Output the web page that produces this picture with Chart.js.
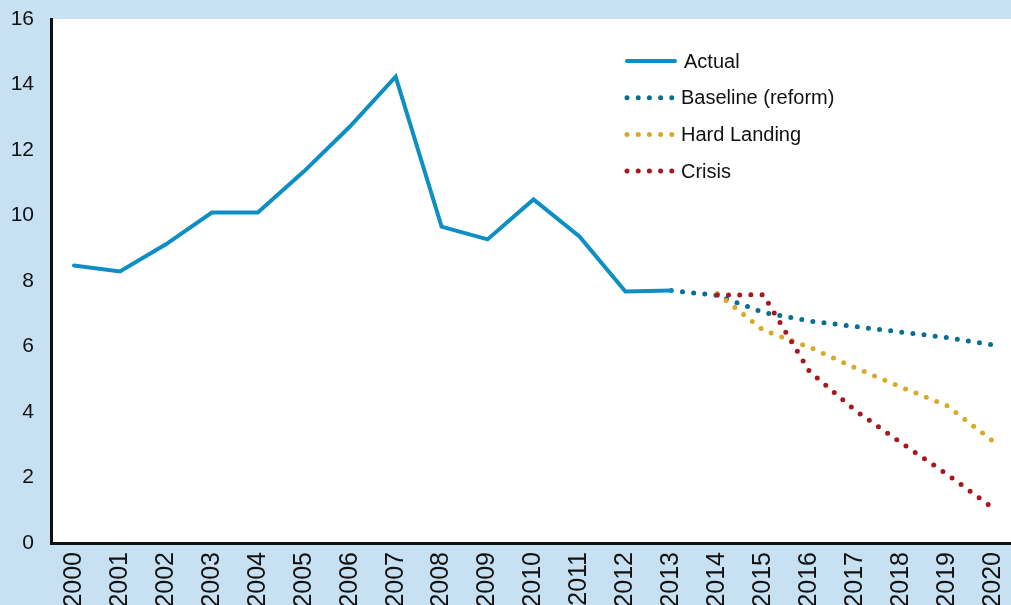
<!DOCTYPE html>
<html>
<head>
<meta charset="utf-8">
<script src="https://cdn.jsdelivr.net/npm/chart.js@4.4.0/dist/chart.umd.min.js"></script>
<style>
  html, body { margin: 0; padding: 0; background: #c7e0f2; overflow: hidden; }
  #wrap { position: relative; width: 1016px; height: 605px; }
</style>
</head>
<body>
<div id="wrap"><canvas id="chart"></canvas></div>
<script>
// 年份与各情景数据
const years = ['2000','2001','2002','2003','2004','2005','2006','2007','2008','2009','2010',
  '2011','2012','2013','2014','2015','2016','2017','2018','2019','2020'];
const actual = [8.47, 8.29, 9.12, 10.09, 10.09, 11.34, 12.71, 14.24, 9.66, 9.27, 10.49,
  9.36, 7.68, 7.71, null, null, null, null, null, null, null];
const baseline = [null, null, null, null, null, null, null, null, null, null, null,
  null, null, 7.71, 7.56, 7.04, 6.78, 6.61, 6.44, 6.27, 6.05];
const hardLanding = [null, null, null, null, null, null, null, null, null, null, null,
  null, null, null, 7.62, 6.5, 5.98, 5.35, 4.76, 4.19, 3.11];
const crisis = [null, null, null, null, null, null, null, null, null, null, null,
  null, null, null, 7.57, 7.58, 5.25, 4.05, 3.06, 2.1, 1.07];
const yTicks = [0, 2, 4, 6, 8, 10, 12, 14, 16];

const FONT = '"Liberation Sans", Arial, sans-serif';

// 图内图例
const insideLegend = {
  id: 'insideLegend',
  afterDraw(chart) {
    const ctx = chart.ctx;
    const x0 = 627, x1 = 675, y0 = 61, step = 36.7;
    ctx.save();
    chart.data.datasets.forEach((ds, i) => {
      const y = y0 + i * step;
      ctx.beginPath();
      ctx.strokeStyle = ds.borderColor;
      ctx.lineWidth = ds.borderWidth;
      ctx.lineCap = 'round';
      ctx.setLineDash(ds.borderDash || []);
      ctx.moveTo(x0, y);
      ctx.lineTo(x1, y);
      ctx.stroke();
      ctx.setLineDash([]);
      ctx.fillStyle = '#111';
      ctx.font = '20px ' + FONT;
      ctx.textBaseline = 'middle';
      ctx.fillText(ds.label, i === 0 ? 684 : 681, y + 1);
    });
    ctx.restore();
  }
};

// 白色绘图区背景
const plotBg = {
  id: 'plotBg',
  beforeDraw(chart) {
    const a = chart.chartArea;
    chart.ctx.save();
    chart.ctx.fillStyle = '#ffffff';
    chart.ctx.fillRect(a.left, a.top, a.right - a.left, a.bottom - a.top);
    chart.ctx.restore();
  }
};

const dotted = (label, data, color, order) => ({
  label, data, order,
  borderColor: color,
  borderWidth: 5,
  borderDash: [0, 11.2],
  borderCapStyle: 'round',
  pointRadius: 0,
  tension: 0,
  fill: false
});

new Chart(document.getElementById('chart').getContext('2d'), {
  type: 'line',
  data: {
    labels: years,
    datasets: [
      { label: 'Actual', data: actual, order: 0, borderColor: '#0e8fc4', borderWidth: 4,
        pointRadius: 0, tension: 0, fill: false, borderCapStyle: 'round', borderJoinStyle: 'miter' },
      dotted('Baseline (reform)', baseline, '#07708f', 3),
      dotted('Hard Landing', hardLanding, '#d9a92b', 2),
      dotted('Crisis', crisis, '#a8171d', 1)
    ]
  },
  options: {
    responsive: true,
    maintainAspectRatio: false,
    animation: false,
    layout: { padding: { top: 19, right: 0, left: 0, bottom: 0 } },
    plugins: { legend: { display: false }, tooltip: { enabled: false } },
    scales: {
      x: {
        offset: true,
        grid: { display: false, drawTicks: false },
        border: { display: true, color: '#111', width: 3 },
        ticks: {
          color: '#111', font: { family: FONT, size: 25 },
          maxRotation: 90, minRotation: 90, padding: 9, autoSkip: false
        },
        afterFit(scale) { scale.height = 62; scale.paddingLeft = 0; scale.paddingRight = 0; }
      },
      y: {
        min: 0, max: 16,
        afterBuildTicks(scale) { scale.ticks = yTicks.map(v => ({ value: v })); },
        grid: { display: false, drawTicks: false },
        border: { display: true, color: '#111', width: 3 },
        ticks: { color: '#111', font: { family: FONT, size: 21 }, padding: 17 },
        afterFit(scale) { scale.width = 51; scale.paddingTop = 0; scale.paddingBottom = 0; }
      }
    }
  },
  plugins: [plotBg, insideLegend]
});
</script>
</body>
</html>
